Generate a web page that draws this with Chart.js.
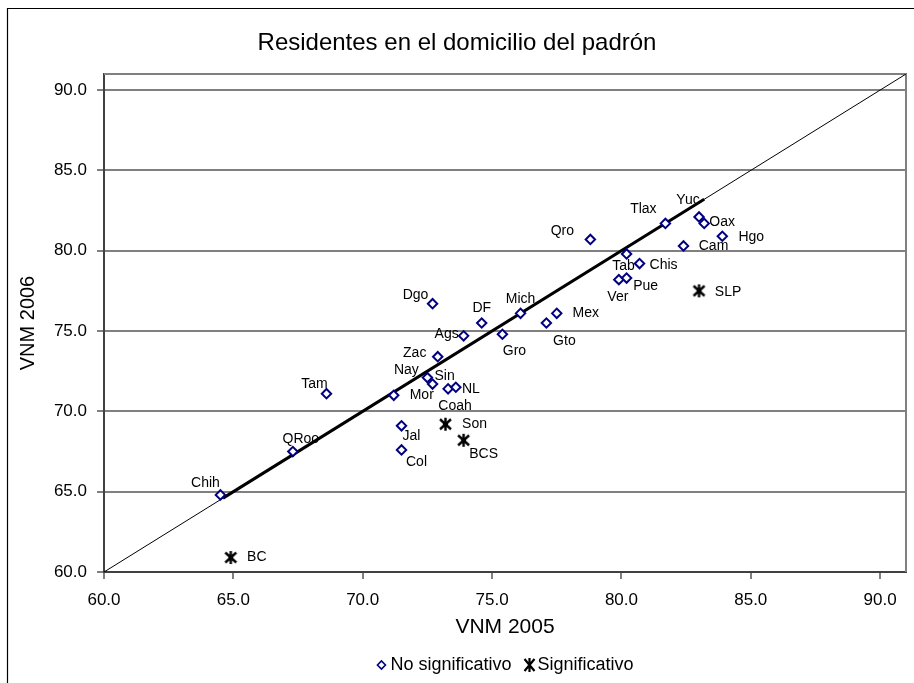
<!DOCTYPE html>
<html>
<head>
<meta charset="utf-8">
<script src="https://cdn.jsdelivr.net/npm/chart.js@4.4.1/dist/chart.umd.min.js"></script>
<style>
  html, body { margin: 0; padding: 0; background: #ffffff; }
  #wrap { width: 914px; height: 683px; }
</style>
</head>
<body>
<div id="wrap"><canvas id="c" width="914" height="683"></canvas></div>
<script>
// ---- Data (VNM 2005 on x, VNM 2006 on y) ----
const nsStates = ['Chih','QRoo','Tam','Mor','Nay','Sin','Coah','NL','Jal','Col','Zac','Dgo','Ags','DF','Gro','Mich','Gto','Mex','Qro','Ver','Pue','Tab','Chis','Tlax','Cam','Yuc','Oax','Hgo'];
const ns2005 = [64.5, 67.3, 68.6, 71.2, 72.5, 72.7, 73.3, 73.6, 71.5, 71.5, 72.9, 72.7, 73.9, 74.6, 75.4, 76.1, 77.1, 77.5, 78.8, 79.9, 80.2, 80.2, 80.7, 81.7, 82.4, 83.0, 83.2, 83.9];
const ns2006 = [64.8, 67.5, 71.1, 71.0, 72.1, 71.7, 71.4, 71.5, 69.1, 67.6, 73.4, 76.7, 74.7, 75.5, 74.8, 76.1, 75.5, 76.1, 80.7, 78.2, 78.3, 79.8, 79.2, 81.7, 80.3, 82.1, 81.7, 80.9];

const sigStates = ['BC','Son','BCS','SLP'];
const sig2005 = [64.9, 73.2, 73.9, 83.0];
const sig2006 = [60.9, 69.2, 68.2, 77.5];

const diagX = [60, 91];            // line y = x
const trendX = [64.6, 83.2];       // bold trend segment (y = x)

const tickValues = [60, 65, 70, 75, 80, 85, 90];

const chartTitle = 'Residentes en el domicilio del padrón';
const xTitle = 'VNM 2005';
const yTitle = 'VNM 2006';
const legendLabels = ['No significativo', 'Significativo'];

// ---- label placement (style only, pixel offsets of the label centre) ----
const labelOffsets = {
  Chih:[-15,-12], QRoo:[8,-12], Tam:[-12,-10], Mor:[28,0], Nay:[-21,-7], Sin:[12,-8],
  Coah:[7,17], NL:[15,2], Jal:[10,10], Col:[15,12], Zac:[-23,-4], Dgo:[-17,-9],
  Ags:[-17,-2], DF:[0,-15], Gro:[12,17], Mich:[0,-14], Gto:[18,18], Mex:[29,0],
  Qro:[-28,-8], Ver:[-1,18], Pue:[19,8], Tab:[-3,12], Chis:[24,2], Tlax:[-22,-14],
  Cam:[30,0], Yuc:[-11,-17], Oax:[18,-1], Hgo:[29,1],
  BC:[26,0], Son:[29,0], BCS:[20,14], SLP:[29,1]
};

const FONT = "'Liberation Sans', Arial, sans-serif";
const NAVY = '#000080';

function makeAsterisk(size) {
  const cv = document.createElement('canvas');
  cv.width = size; cv.height = size;
  const g = cv.getContext('2d');
  const m = size / 2;
  g.fillStyle = NAVY;
  g.fillRect(m - 2.5, m - 2.5, 5, 5);
  g.strokeStyle = '#000000';
  g.lineWidth = 2.4;
  g.beginPath();
  g.moveTo(m, 1); g.lineTo(m, size - 1);
  g.moveTo(2, 2.5); g.lineTo(size - 2, size - 2.5);
  g.moveTo(size - 2, 2.5); g.lineTo(2, size - 2.5);
  g.stroke();
  return cv;
}
const asterisk = makeAsterisk(15);

const pts = (xs, ys) => xs.map((x, i) => ({ x: x, y: ys[i] }));

const framePlugin = {
  id: 'frame',
  beforeDraw(chart) {
    const ctx = chart.ctx;
    ctx.save();
    ctx.fillStyle = '#ffffff';
    ctx.fillRect(0, 0, chart.width, chart.height);
    ctx.strokeStyle = '#000000';
    ctx.lineWidth = 1.2;
    ctx.beginPath();
    ctx.moveTo(7.5, chart.height);
    ctx.lineTo(7.5, 8.5);
    ctx.lineTo(chart.width, 8.5);
    ctx.stroke();
    ctx.fillStyle = '#000000';
    ctx.font = '24px ' + FONT;
    ctx.textAlign = 'center';
    ctx.textBaseline = 'middle';
    ctx.fillText(chartTitle, chart.width / 2, 43);
    ctx.restore();
  },
  beforeDatasetsDraw(chart) {
    const {ctx, chartArea: a} = chart;
    ctx.save();
    ctx.strokeStyle = '#808080';
    ctx.lineWidth = 2;
    ctx.beginPath();
    ctx.moveTo(a.left, a.top);
    ctx.lineTo(a.right, a.top);
    ctx.lineTo(a.right, a.bottom);
    ctx.stroke();
    ctx.restore();
  },
  afterDatasetsDraw(chart) {
    const ctx = chart.ctx;
    ctx.save();
    ctx.fillStyle = '#000000';
    ctx.font = '14px ' + FONT;
    ctx.textAlign = 'center';
    ctx.textBaseline = 'middle';
    [[2, nsStates], [3, sigStates]].forEach(([di, names]) => {
      const meta = chart.getDatasetMeta(di);
      meta.data.forEach((el, i) => {
        const off = labelOffsets[names[i]] || [20, 0];
        ctx.fillText(names[i], el.x + off[0], el.y + off[1]);
      });
    });
    ctx.restore();
  },
  afterDraw(chart) {
    const {ctx, chartArea: a} = chart;
    ctx.save();
    ctx.font = '18px ' + FONT;
    ctx.textBaseline = 'middle';
    ctx.textAlign = 'left';
    const w1 = ctx.measureText(legendLabels[0]).width;
    const w2 = ctx.measureText(legendLabels[1]).width;
    const total = 10 + 4 + w1 + 12 + 12 + 2 + w2;
    let x = (a.left + a.right) / 2 - total / 2;
    const y = 665;
    ctx.strokeStyle = NAVY;
    ctx.fillStyle = '#ffffff';
    ctx.lineWidth = 1.6;
    ctx.beginPath();
    ctx.moveTo(x + 1, y); ctx.lineTo(x + 5, y - 4); ctx.lineTo(x + 9, y); ctx.lineTo(x + 5, y + 4); ctx.closePath();
    ctx.fill(); ctx.stroke();
    x += 14;
    ctx.fillStyle = '#000000';
    ctx.fillText(legendLabels[0], x, y);
    x += w1 + 12;
    ctx.strokeStyle = '#000000';
    ctx.lineWidth = 2.2;
    ctx.beginPath();
    ctx.moveTo(x + 6, y - 7); ctx.lineTo(x + 6, y + 7);
    ctx.moveTo(x + 1, y - 6); ctx.lineTo(x + 11, y + 6);
    ctx.moveTo(x + 11, y - 6); ctx.lineTo(x + 1, y + 6);
    ctx.stroke();
    x += 14;
    ctx.fillText(legendLabels[1], x, y);
    ctx.restore();
  }
};

new Chart(document.getElementById('c'), {
  data: {
    datasets: [
      { type: 'line', label: 'y=x', data: pts(diagX, diagX), borderColor: '#000000', borderWidth: 1, pointRadius: 0, order: 4, tension: 0 },
      { type: 'line', label: 'trend', data: pts(trendX, trendX), borderColor: '#000000', borderWidth: 3, pointRadius: 0, order: 3, tension: 0 },
      { type: 'scatter', label: legendLabels[0], data: pts(ns2005, ns2006), pointStyle: 'rectRot', pointRadius: 4.7, pointHoverRadius: 4.7,
        borderColor: NAVY, backgroundColor: '#ffffff', borderWidth: 2, order: 2 },
      { type: 'scatter', label: legendLabels[1], data: pts(sig2005, sig2006), pointStyle: asterisk, pointRadius: 7, order: 1 }
    ]
  },
  options: {
    responsive: false,
    animation: false,
    events: [],
    layout: { padding: { top: 74, right: 7, left: 0, bottom: 0 } },
    plugins: { legend: { display: false }, title: { display: false }, tooltip: { enabled: false } },
    scales: {
      x: {
        type: 'linear', min: 60, max: 91,
        afterFit: (s) => { s.height = 111; },
        afterBuildTicks: (s) => { s.ticks = tickValues.map(v => ({ value: v })); },
        ticks: { font: { family: FONT, size: 17 }, color: '#000000', padding: 11, maxRotation: 0,
                 callback: (v) => Number(v).toFixed(1) },
        grid: { drawOnChartArea: false, drawTicks: true, tickLength: 7, color: '#808080', lineWidth: 2 },
        border: { display: true, color: '#404040', width: 2 },
        title: { display: true, text: xTitle, color: '#000000', font: { family: FONT, size: 21 }, padding: { top: 0, bottom: 43 } }
      },
      y: {
        type: 'linear', min: 60, max: 91,
        afterFit: (s) => { s.width = 104; },
        afterBuildTicks: (s) => { s.ticks = tickValues.map(v => ({ value: v })); },
        ticks: { font: { family: FONT, size: 17 }, color: '#000000', padding: 10,
                 callback: (v) => Number(v).toFixed(1) },
        grid: { drawOnChartArea: true, drawTicks: true, tickLength: 7, color: '#808080', lineWidth: 2 },
        border: { display: true, color: '#404040', width: 2 },
        title: { display: true, text: yTitle, color: '#000000', font: { family: FONT, size: 20 }, padding: { top: 16, bottom: 0 } }
      }
    }
  },
  plugins: [framePlugin]
});
</script>
</body>
</html>
